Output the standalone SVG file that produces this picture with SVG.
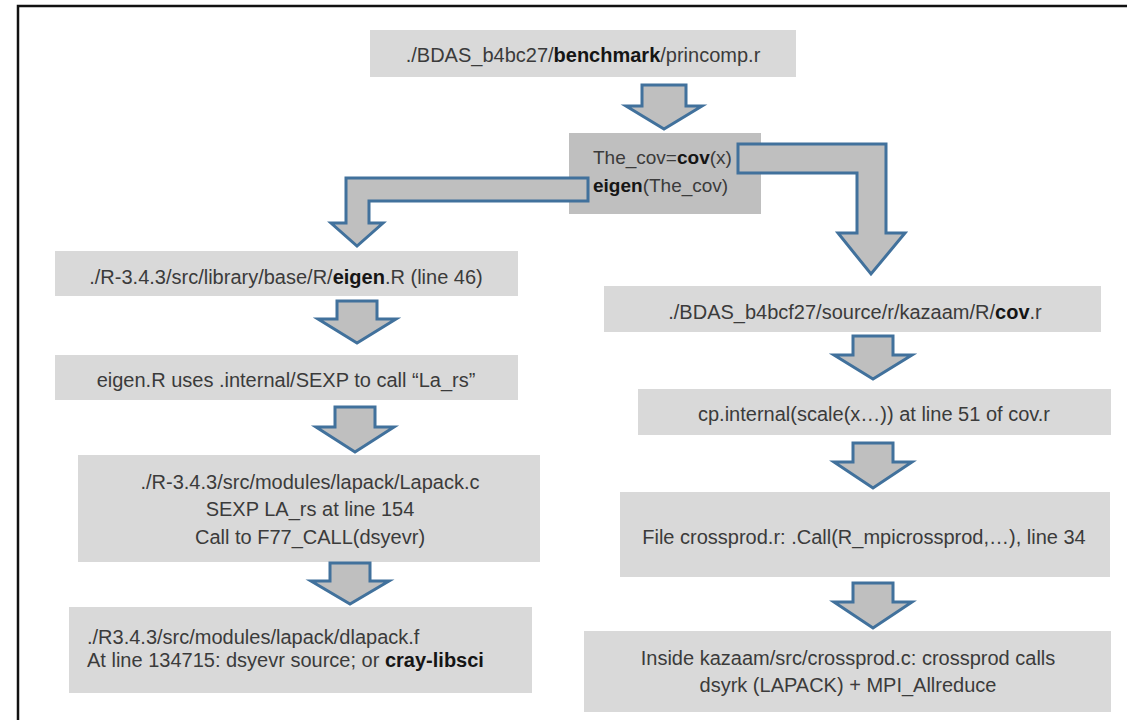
<svg xmlns="http://www.w3.org/2000/svg" width="1127" height="720" viewBox="0 0 1127 720">
  <style>
    .box { fill: #d9d9d9; }
    .box-dark { fill: #bfbfbf; }
    .t { font-family: 'Liberation Sans', Arial, sans-serif; font-size: 20px; fill: #3b3b3b; }
    .c { text-anchor: middle; }
    .b { font-weight: bold; fill: #151515; }
    .arrow { fill: #bfbfbf; stroke: #41719c; stroke-width: 3; stroke-linejoin: miter; }
    .frame { fill: none; stroke: #111; stroke-width: 2.5; }
  </style>

  <rect width="1127" height="720" fill="#ffffff"/>
  <path class="frame" d="M18,722 V6 H1130"/>

  <!-- entry script -->
  <g id="princomp">
    <rect class="box" x="370" y="30" width="426" height="47"/>
    <text class="t c" x="583" y="62">./BDAS_b4bc27/<tspan class="b">benchmark</tspan>/princomp.r</text>
  </g>

  <!-- covariance + eigen call -->
  <g id="thecov">
    <rect class="box-dark" x="569" y="133" width="192" height="81"/>
    <text class="t" x="593" y="164" style="font-size:19px">The_cov=<tspan class="b">cov</tspan>(x)</text>
    <text class="t" x="593" y="192" style="font-size:19px"><tspan class="b">eigen</tspan>(The_cov)</text>
  </g>

  <!-- eigen path (left column) -->
  <g id="eigenR">
    <rect class="box" x="55" y="251" width="463" height="45"/>
    <text class="t c" x="286" y="284">./R-3.4.3/src/library/base/R/<tspan class="b">eigen</tspan>.R (line 46)</text>
  </g>
  <g id="larsCall">
    <rect class="box" x="55" y="355" width="463" height="45"/>
    <text class="t c" x="286" y="387">eigen.R uses .internal/SEXP to call “La_rs”</text>
  </g>
  <g id="lapackC">
    <rect class="box" x="78" y="455" width="462" height="107"/>
    <text class="t c" x="310" y="489">./R-3.4.3/src/modules/lapack/Lapack.c</text>
    <text class="t c" x="310" y="516">SEXP LA_rs at line 154</text>
    <text class="t c" x="310" y="544">Call to F77_CALL(dsyevr)</text>
  </g>
  <g id="dlapackF">
    <rect class="box" x="69" y="607" width="463" height="86"/>
    <text class="t" x="87" y="644">./R3.4.3/src/modules/lapack/dlapack.f</text>
    <text class="t" x="87" y="667">At line 134715: dsyevr source; or <tspan class="b">cray-libsci</tspan></text>
  </g>

  <!-- cov path (right column) -->
  <g id="covR">
    <rect class="box" x="604" y="286" width="497" height="46"/>
    <text class="t c" x="855" y="319">./BDAS_b4bcf27/source/r/kazaam/R/<tspan class="b">cov</tspan>.r</text>
  </g>
  <g id="cpInternal">
    <rect class="box" x="638" y="389" width="473" height="46"/>
    <text class="t c" x="874" y="421">cp.internal(scale(x…)) at line 51 of cov.r</text>
  </g>
  <g id="crossprodR">
    <rect class="box" x="620" y="492" width="490" height="85"/>
    <text class="t c" x="864" y="544">File crossprod.r: .Call(R_mpicrossprod,…), line 34</text>
  </g>
  <g id="crossprodC">
    <rect class="box" x="584" y="631" width="527" height="81"/>
    <text class="t c" x="848" y="665">Inside kazaam/src/crossprod.c: crossprod calls</text>
    <text class="t c" x="848" y="692">dsyrk (LAPACK) + MPI_Allreduce</text>
  </g>

  <!-- block arrows -->
  <g id="connectors">
    <polygon class="arrow" points="642,85 686,85 686,106 702,106 664,129 626,106 642,106"/>
    <polygon class="arrow" points="588,178 346,178 346,223 331,223 357,246 383,223 369,223 369,201 588,201"/>
    <polygon class="arrow" points="738,144 886,144 886,233 905,233 871,274 838,233 857,233 857,173 738,173"/>

    <polygon class="arrow" points="337,301 377,301 377,319 396,319 357,343 318,319 337,319"/>
    <polygon class="arrow" points="335,407 375,407 375,427 394,427 355,452 316,427 335,427"/>
    <polygon class="arrow" points="330,563 370,563 370,581 389,581 350,604 311,581 330,581"/>

    <polygon class="arrow" points="853,336 893,336 893,355 912,355 873,379 834,355 853,355"/>
    <polygon class="arrow" points="853,443 893,443 893,462 912,462 873,488 834,462 853,462"/>
    <polygon class="arrow" points="853,583 893,583 893,602 912,602 873,628 834,602 853,602"/>
  </g>
</svg>
